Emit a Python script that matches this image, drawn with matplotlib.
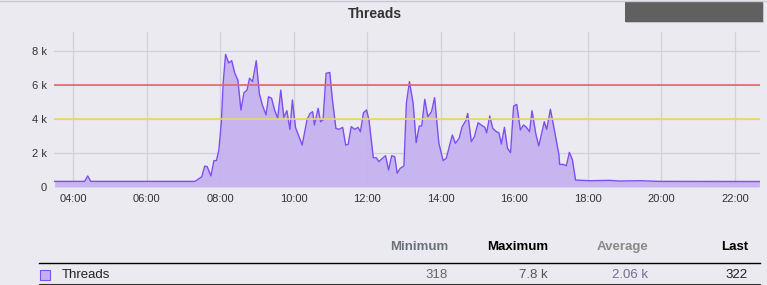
import numpy as np
import pandas as pd
import matplotlib
matplotlib.use("Agg")
import matplotlib.pyplot as plt
import matplotlib.dates as mdates
from matplotlib.patches import Rectangle

plt.rcParams['font.family'] = ['Liberation Sans', 'DejaVu Sans']

# thread count samples (time of day, threads)
times = ["03:30", "04:19", "04:24", "04:29", "07:19", "07:22", "07:30", "07:35", "07:39", "07:45",
         "07:50", "07:54", "07:58", "08:02", "08:05", "08:09", "08:14", "08:19", "08:24", "08:29",
         "08:34", "08:39", "08:44", "08:48", "08:53", "08:59", "09:04", "09:09", "09:15", "09:19",
         "09:24", "09:29", "09:34", "09:39", "09:44", "09:49", "09:54", "09:58", "10:03", "10:14",
         "10:22", "10:27", "10:31", "10:34", "10:40", "10:44", "10:48", "10:53", "10:59", "11:03",
         "11:09", "11:14", "11:20", "11:25", "11:29", "11:34", "11:40", "11:45", "11:49", "11:54",
         "11:59", "12:03", "12:10", "12:15", "12:19", "12:25", "12:30", "12:35", "12:40", "12:45",
         "12:49", "12:54", "13:00", "13:04", "13:09", "13:15", "13:20", "13:25", "13:29", "13:34",
         "13:39", "13:45", "13:50", "13:57", "14:04", "14:09", "14:19", "14:24", "14:30", "14:35",
         "14:41", "14:44", "14:50", "14:55", "15:01", "15:06", "15:12", "15:15", "15:20", "15:25",
         "15:31", "15:35", "15:39", "15:44", "15:49", "15:54", "15:59", "16:04", "16:10", "16:15",
         "16:20", "16:25", "16:29", "16:35", "16:40", "16:49", "16:53", "16:59", "17:06", "17:13",
         "17:14", "17:20", "17:25", "17:30", "17:35", "17:40", "18:03", "18:35", "18:52", "19:24",
         "19:57", "22:40"]
threads = [330, 330, 650, 330, 330, 400, 600, 1230, 1200, 650,
           1550, 1550, 2170, 3750, 6100, 7800, 7300, 7430, 6690, 6300,
           4530, 5550, 5700, 6400, 6200, 7430, 5510, 4820, 4240, 5310,
           5220, 4530, 4040, 5700, 4100, 4490, 3390, 5120, 3510, 2470,
           3980, 4330, 4430, 3650, 4630, 3840, 3940, 6690, 6740, 5220,
           3450, 3390, 3510, 2470, 2510, 3550, 3390, 3510, 3250, 4370,
           4530, 3940, 1720, 1720, 1490, 1690, 1840, 1000, 1840, 1780,
           810, 1100, 1240, 4920, 6200, 4920, 2610, 3590, 3590, 5160,
           4140, 4430, 5260, 2570, 1550, 1690, 3060, 2570, 2860, 3550,
           3900, 4330, 2670, 2960, 3780, 3650, 3510, 3190, 4180, 3450,
           3250, 3190, 2530, 3510, 2280, 2020, 4760, 4860, 3350, 3650,
           3510, 3250, 4490, 3160, 2410, 3840, 3390, 4570, 3250, 1880,
           1330, 1330, 1250, 2040, 1590, 410, 370, 390, 350, 370,
           330, 322]

warn_level = 4000
crit_level = 6000
yticks = [0, 2000, 4000, 6000, 8000]
ytick_labels = ["0", "2 k", "4 k", "6 k", "8 k"]
stat_names = ["Minimum", "Maximum", "Average", "Last"]
stat_values = ["318", "7.8 k", "2.06 k", "322"]

t = pd.to_datetime(["2024-01-01 " + s for s in times])
bg = "#ebeaf0"

fig = plt.figure(figsize=(7.67, 2.85), dpi=100, facecolor=bg)
ax = fig.add_axes([54 / 767, 98 / 285, 706 / 767, 155 / 285], facecolor=bg)

ax.grid(True, color="#cfd1dc", linewidth=0.9)
ax.set_axisbelow(True)
ax.fill_between(t, threads, 0, color="#c4b0f0", alpha=0.9, linewidth=0, zorder=2)
ax.plot(t, threads, color="#7d4ef0", linewidth=1.0, zorder=3)
ax.axhline(crit_level, color="#e8646a", linewidth=1.2, zorder=4)
ax.axhline(warn_level, color="#f2d36a", linewidth=1.2, zorder=4)

ax.set_xlim(pd.Timestamp("2024-01-01 03:29"), pd.Timestamp("2024-01-01 22:41"))
ax.set_ylim(0, 9120)
ax.set_yticks(yticks)
ax.set_yticklabels(ytick_labels)
ax.xaxis.set_major_locator(mdates.HourLocator(byhour=range(0, 24, 2)))
ax.xaxis.set_major_formatter(mdates.DateFormatter("%H:%M"))
ax.tick_params(length=0, labelsize=8, colors="#333333", pad=5)
for s in ax.spines.values():
    s.set_visible(False)

fig.text(375 / 767, 1 - 14 / 285, "Threads", ha="center", va="center",
         fontsize=10, fontweight="bold", color="#333333")
# top border and dark box at top right
fig.add_artist(plt.Line2D([0, 1], [1 - 1 / 285, 1 - 1 / 285], color="#c8c8d0", linewidth=1))
fig.add_artist(Rectangle((626 / 767, 1 - 23 / 285), 138 / 767, 20 / 285,
                         facecolor="#aaaaaa", edgecolor="none", alpha=0.6))
fig.add_artist(Rectangle((625 / 767, 1 - 22 / 285), 138 / 767, 20 / 285,
                         facecolor="#606060", edgecolor="none"))

# legend table
name_colors = ["#6b7079", "#000000", "#8a8a8a", "#000000"]
val_colors = ["#666666", "#555555", "#6e6e94", "#222222"]
col_right = [448, 548, 648, 748]
for name, val, xr, nc, vc in zip(stat_names, stat_values, col_right, name_colors, val_colors):
    fig.text(xr / 767, 1 - 247 / 285, name, ha="right", va="center", fontsize=9.5,
             color=nc, fontweight="bold")
    fig.text(xr / 767, 1 - 275 / 285, val, ha="right", va="center", fontsize=9.5, color=vc)

fig.add_artist(plt.Line2D([39 / 767, 760 / 767], [1 - 263 / 285, 1 - 263 / 285], color="black", linewidth=1))
fig.add_artist(plt.Line2D([39 / 767, 760 / 767], [1 - 283.5 / 285, 1 - 283.5 / 285], color="#333333", linewidth=0.8))
fig.add_artist(Rectangle((39.5 / 767, 1 - 280 / 285), 10 / 767, 10 / 285,
                         facecolor="#c4b0f0", edgecolor="#7d4ef0", linewidth=0.8))
fig.text(62 / 767, 1 - 275 / 285, "Threads", ha="left", va="center", fontsize=9.5, color="#222222")

fig.savefig("out.png", dpi=100, facecolor=bg)
